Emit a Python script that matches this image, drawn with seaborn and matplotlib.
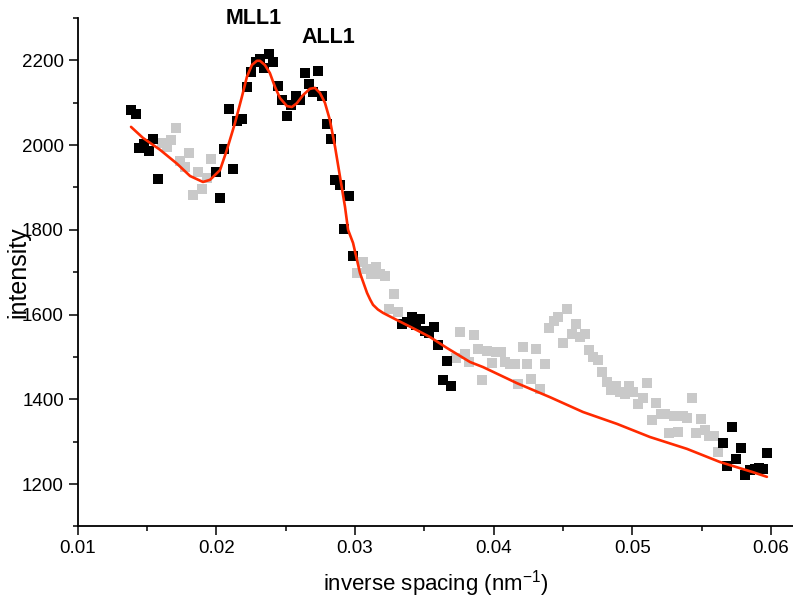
import matplotlib
matplotlib.use("Agg")
import matplotlib.pyplot as plt
from matplotlib.ticker import MultipleLocator, FormatStrFormatter
import seaborn as sns
import pandas as pd

# ---- data ----
fit_x = [0.01384, 0.01470, 0.01593, 0.01716, 0.01810, 0.01903, 0.01954, 0.02026,
         0.02076, 0.02134, 0.02184, 0.02220, 0.02256, 0.02292, 0.02314, 0.02350,
         0.02386, 0.02423, 0.02459, 0.02509, 0.02545, 0.02581, 0.02625, 0.02675,
         0.02711, 0.02747, 0.02783, 0.02819, 0.02856, 0.02892, 0.02928, 0.02950,
         0.02986, 0.03036, 0.03087, 0.03110, 0.03130, 0.03165, 0.03202, 0.03303,
         0.03418, 0.03541, 0.03664, 0.03830, 0.03924, 0.04169, 0.04407, 0.04645,
         0.04890, 0.05128, 0.05395, 0.05633, 0.05871, 0.05972]
fit_y = [2043, 2017, 1989, 1956, 1927, 1913, 1918, 1941,
         1989, 2052, 2114, 2161, 2189, 2199, 2199, 2189,
         2170, 2137, 2111, 2092, 2090, 2099, 2118, 2133,
         2135, 2123, 2100, 2059, 1996, 1925, 1854, 1800,
         1769, 1698, 1651, 1635, 1623, 1612, 1604, 1587,
         1568, 1547, 1521, 1488, 1476, 1438, 1405, 1370,
         1342, 1311, 1283, 1252, 1228, 1217]

fitted_x = [0.01384, 0.01420, 0.01442, 0.01478, 0.01514, 0.01543, 0.01579, 0.01997,
            0.02026, 0.02055, 0.02091, 0.02120, 0.02149, 0.02185, 0.02221, 0.02250,
            0.02286, 0.02315, 0.02343, 0.02380, 0.02408, 0.02444, 0.02473, 0.02509,
            0.02538, 0.02574, 0.02603, 0.02639, 0.02668, 0.02697, 0.02733, 0.02762,
            0.02798, 0.02827, 0.02856, 0.02892, 0.02921, 0.02957, 0.02986, 0.03339,
            0.03375, 0.03411, 0.03440, 0.03469, 0.03505, 0.03534, 0.03570, 0.03599,
            0.03635, 0.03664, 0.03693, 0.05655, 0.05684, 0.05720, 0.05749, 0.05785,
            0.05814, 0.05850, 0.05886, 0.05915, 0.05944, 0.05973]
fitted_y = [2083, 2074, 1993, 2003, 1986, 2015, 1920, 1937,
            1875, 1991, 2085, 1944, 2057, 2062, 2137, 2173,
            2196, 2203, 2182, 2215, 2196, 2140, 2107, 2069,
            2095, 2116, 2107, 2170, 2144, 2126, 2175, 2116,
            2050, 2015, 1918, 1906, 1802, 1880, 1738, 1578,
            1582, 1594, 1575, 1590, 1561, 1557, 1571, 1528,
            1446, 1490, 1431, 1297, 1242, 1335, 1259, 1285,
            1221, 1233, 1235, 1238, 1235, 1273]

excluded_x = [0.01608, 0.01644, 0.01672, 0.01709, 0.01737, 0.01773, 0.01802, 0.01831,
              0.01867, 0.01896, 0.01932, 0.01961, 0.03014, 0.03058, 0.03087, 0.03115,
              0.03152, 0.03180, 0.03216, 0.03245, 0.03281, 0.03310, 0.03729, 0.03758,
              0.03794, 0.03823, 0.03859, 0.03887, 0.03916, 0.03952, 0.03988, 0.04017,
              0.04053, 0.04082, 0.04118, 0.04154, 0.04176, 0.04212, 0.04241, 0.04270,
              0.04306, 0.04335, 0.04371, 0.04400, 0.04436, 0.04465, 0.04501, 0.04530,
              0.04566, 0.04595, 0.04623, 0.04659, 0.04688, 0.04717, 0.04753, 0.04782,
              0.04818, 0.04847, 0.04883, 0.04912, 0.04948, 0.04977, 0.05006, 0.05042,
              0.05078, 0.05107, 0.05143, 0.05172, 0.05208, 0.05237, 0.05266, 0.05302,
              0.05330, 0.05367, 0.05395, 0.05432, 0.05460, 0.05496, 0.05525, 0.05554,
              0.05590, 0.05619]
excluded_y = [2005, 1996, 2012, 2041, 1963, 1948, 1981, 1882,
              1937, 1897, 1922, 1967, 1698, 1724, 1708, 1696,
              1712, 1696, 1691, 1613, 1649, 1606, 1497, 1559,
              1507, 1488, 1552, 1519, 1446, 1514, 1486, 1512,
              1512, 1488, 1483, 1483, 1436, 1523, 1483, 1448,
              1519, 1424, 1483, 1568, 1585, 1594, 1533, 1613,
              1554, 1578, 1547, 1554, 1516, 1500, 1493, 1464,
              1441, 1422, 1431, 1417, 1412, 1431, 1417, 1389,
              1403, 1438, 1351, 1391, 1365, 1365, 1320, 1361,
              1323, 1361, 1356, 1403, 1320, 1353, 1327, 1313,
              1313, 1276]

peak_labels = ["MLL1", "ALL1"]
peak_label_x = [0.02271, 0.02807]
peak_label_y = [2300, 2253]

x_label = "inverse spacing (nm$^{-1}$)"
y_label = "intensity"

# ---- style ----
sns.set_style("ticks")
plt.rcParams["font.family"] = ["Liberation Sans", "DejaVu Sans"]
plt.rcParams["mathtext.fontset"] = "custom"
plt.rcParams["mathtext.rm"] = "Liberation Sans"
plt.rcParams["mathtext.it"] = "Liberation Sans"

fig = plt.figure(figsize=(7.93, 5.98), dpi=100)
ax = fig.add_axes([77.8 / 793, (598 - 526.4) / 598, (793 - 77.8) / 793, (526.4 - 18) / 598])

df_exc = pd.DataFrame({"x": excluded_x, "y": excluded_y})
df_fit = pd.DataFrame({"x": fitted_x, "y": fitted_y})
df_curve = pd.DataFrame({"x": fit_x, "y": fit_y})

sns.scatterplot(data=df_exc, x="x", y="y", marker="s", s=44, color="#C9C9C9",
                linewidth=0, ax=ax, zorder=2)
sns.scatterplot(data=df_fit, x="x", y="y", marker="s", s=44, color="#000000",
                linewidth=0, ax=ax, zorder=3)
sns.lineplot(data=df_curve, x="x", y="y", color="#FF2A00", linewidth=1.9,
             sort=False, estimator=None, ax=ax, zorder=4)

ax.set_xlim(0.01, 0.01 + (793 - 77.8) / 13860)
ax.set_ylim(1100, 2300)
ax.xaxis.set_major_locator(MultipleLocator(0.01))
ax.xaxis.set_minor_locator(MultipleLocator(0.005))
ax.yaxis.set_major_locator(MultipleLocator(200))
ax.yaxis.set_minor_locator(MultipleLocator(100))
ax.xaxis.set_major_formatter(FormatStrFormatter("%.2f"))
ax.tick_params(which="major", direction="out", length=6.5, width=1.1,
               labelsize=13.5, pad=3.5, color="black", labelcolor="black")
ax.tick_params(which="minor", direction="out", length=3.8, width=1.1, color="black")

for side in ["top", "right"]:
    ax.spines[side].set_visible(False)
for side in ["left", "bottom"]:
    ax.spines[side].set_linewidth(1.3)
    ax.spines[side].set_color("black")

ax.set_xlabel(x_label, fontsize=16, color="black")
ax.xaxis.set_label_coords(0.5, -0.083)
ax.set_ylabel(y_label, fontsize=18, color="black")
ax.yaxis.set_label_coords(-0.066, 0.5)

for lab, lx, ly in zip(peak_labels, peak_label_x, peak_label_y):
    ax.text(lx, ly, lab, fontsize=15.5, fontweight="bold", ha="center", va="center",
            clip_on=False, color="black")

fig.savefig("out.png", dpi=100)
